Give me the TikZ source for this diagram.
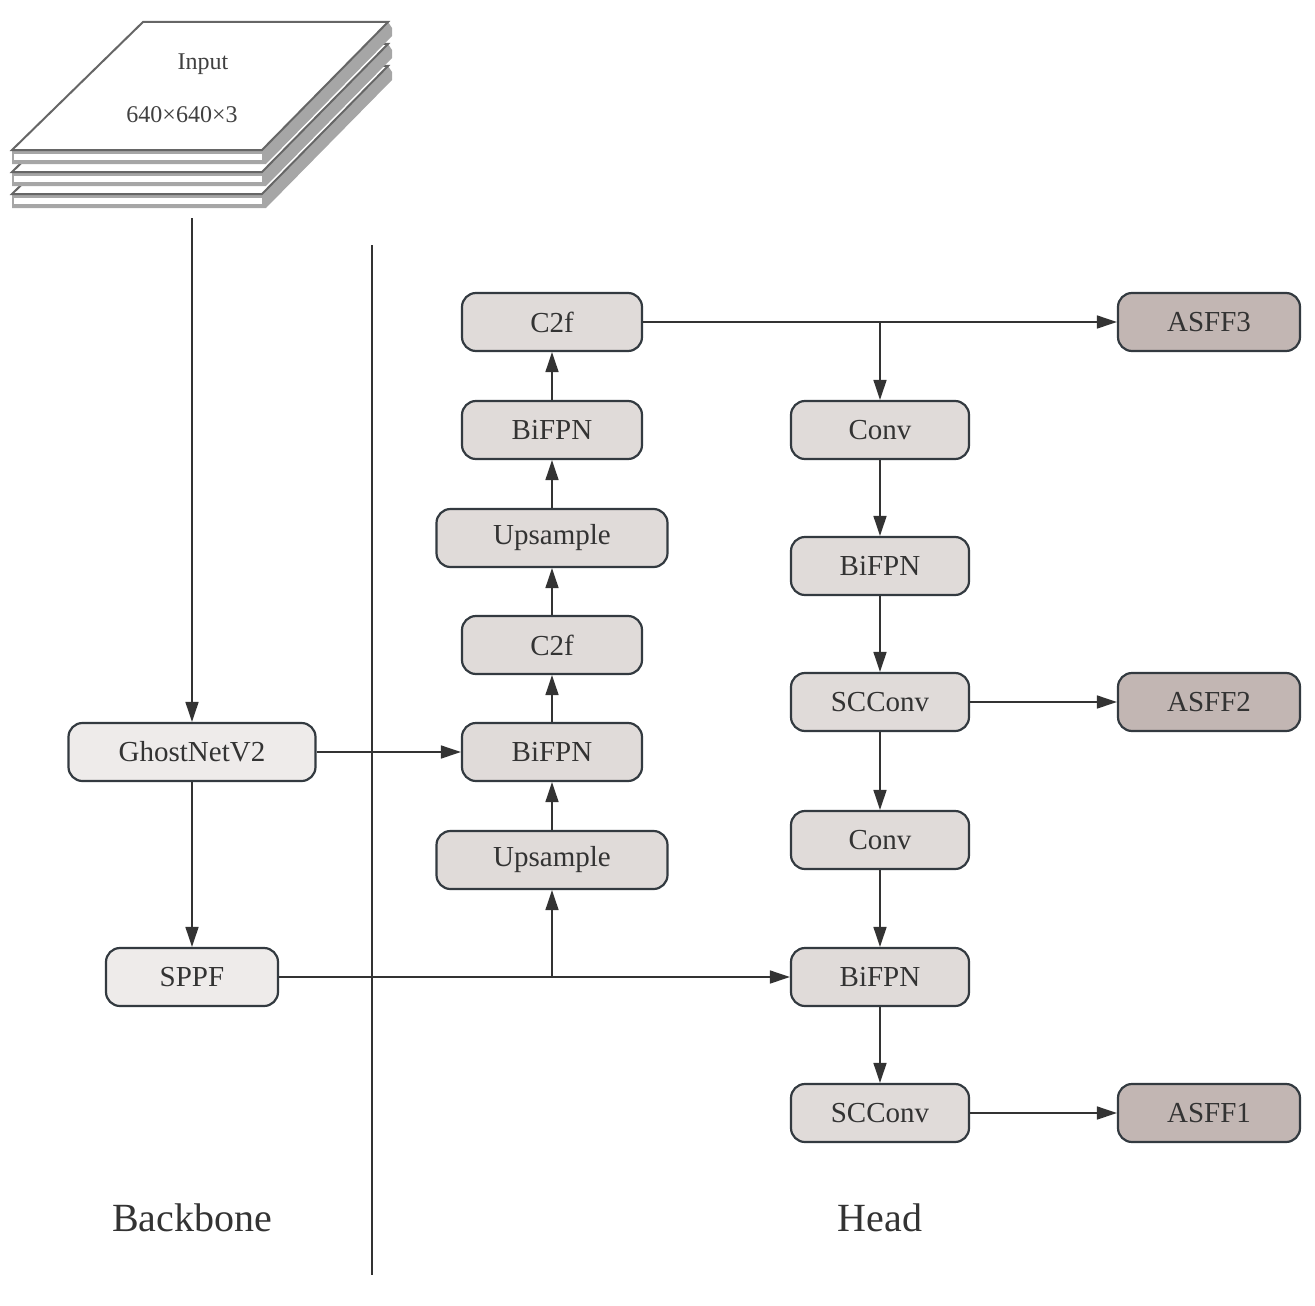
\documentclass[tikz,border=0pt]{standalone}
\usepackage{fontspec}
\setmainfont{Liberation Serif}
\usetikzlibrary{arrows.meta}
\definecolor{nf}{HTML}{E0DBD9}
\definecolor{bf}{HTML}{EEEBEA}
\definecolor{af}{HTML}{C2B6B3}
\definecolor{ed}{HTML}{333A40}
\begin{document}
\begin{tikzpicture}[x=1pt,y=-1pt,
 blk/.style={draw=ed,line width=2.2pt,rounded corners=14pt,minimum height=58pt,font=\fontsize{29}{34}\selectfont,text=black!80,fill=nf,inner sep=0pt},
 arr/.style={-{Triangle[length=20pt,width=13pt]},line width=1.6pt,draw=black!80}]
\useasboundingbox (0,0) rectangle (1315,1306);
% input stack
\foreach \d in {44,22,0}{
 \fill[gray!70] (12,150+\d) -- (262,150+\d) -- (388,22+\d) -- (392,28+\d) -- (392,36+\d) -- (266,164+\d) -- (12,164+\d) -- cycle;
 \fill[white] (14,154+\d) -- (262,154+\d) -- (262,160+\d) -- (14,160+\d) -- cycle;
 \draw[gray!80!black,line width=2pt,fill=white] (143,22+\d) -- (388,22+\d) -- (262,150+\d) -- (12,150+\d) -- cycle;
}
\node[font=\fontsize{24}{28}\selectfont,text=black!75] (inl) at (203,64) {Input};
\node[font=\fontsize{24}{28}\selectfont,text=black!75] (ins) at (182,115) {640×640×3};
\coordinate (instop) at (192,218);
% divider
\draw[line width=2pt,black!80] (372,245) -- (372,1275);
% nodes
\node[blk,fill=bf,minimum width=247pt] (g) at (192,752) {GhostNetV2};
\node[blk,fill=bf,minimum width=172pt] (s) at (192,977) {SPPF};
\node[blk,minimum width=180pt] (c2a) at (552,322) {C2f};
\node[blk,minimum width=180pt] (b1) at (552,430) {BiFPN};
\node[blk,minimum width=231pt] (u1) at (552,538) {Upsample};
\node[blk,minimum width=180pt] (c2b) at (552,645) {C2f};
\node[blk,minimum width=180pt] (b2) at (552,752) {BiFPN};
\node[blk,minimum width=231pt] (u2) at (552,860) {Upsample};
\node[blk,minimum width=178pt] (cv1) at (880,430) {Conv};
\node[blk,minimum width=178pt] (b3) at (880,566) {BiFPN};
\node[blk,minimum width=178pt] (sc1) at (880,702) {SCConv};
\node[blk,minimum width=178pt] (cv2) at (880,840) {Conv};
\node[blk,minimum width=178pt] (b4) at (880,977) {BiFPN};
\node[blk,minimum width=178pt] (sc2) at (880,1113) {SCConv};
\node[blk,fill=af,minimum width=182pt] (a3) at (1209,322) {ASFF3};
\node[blk,fill=af,minimum width=182pt] (a2) at (1209,702) {ASFF2};
\node[blk,fill=af,minimum width=182pt] (a1) at (1209,1113) {ASFF1};
\node[font=\fontsize{40}{46}\selectfont,text=black!80] (lb) at (192,1218) {Backbone};
\node[font=\fontsize{40}{46}\selectfont,text=black!80] (lh) at (880,1218) {Head};
% connectors
\draw[arr] (instop) -- (g);
\draw[arr] (g) -- (s);
\draw[arr] (g) -- (b2);
\draw[arr] (s) -- (b4);
\coordinate (j1) at (552,977);
\draw[arr] (j1) -- (u2);
\draw[arr] (u2) -- (b2);
\draw[arr] (b2) -- (c2b);
\draw[arr] (c2b) -- (u1);
\draw[arr] (u1) -- (b1);
\draw[arr] (b1) -- (c2a);
\draw[arr] (c2a) -- (a3);
\coordinate (j2) at (880,322);
\draw[arr] (j2) -- (cv1);
\draw[arr] (cv1) -- (b3);
\draw[arr] (b3) -- (sc1);
\draw[arr] (sc1) -- (cv2);
\draw[arr] (sc1) -- (a2);
\draw[arr] (cv2) -- (b4);
\draw[arr] (b4) -- (sc2);
\draw[arr] (sc2) -- (a1);
\end{tikzpicture}
\end{document}
